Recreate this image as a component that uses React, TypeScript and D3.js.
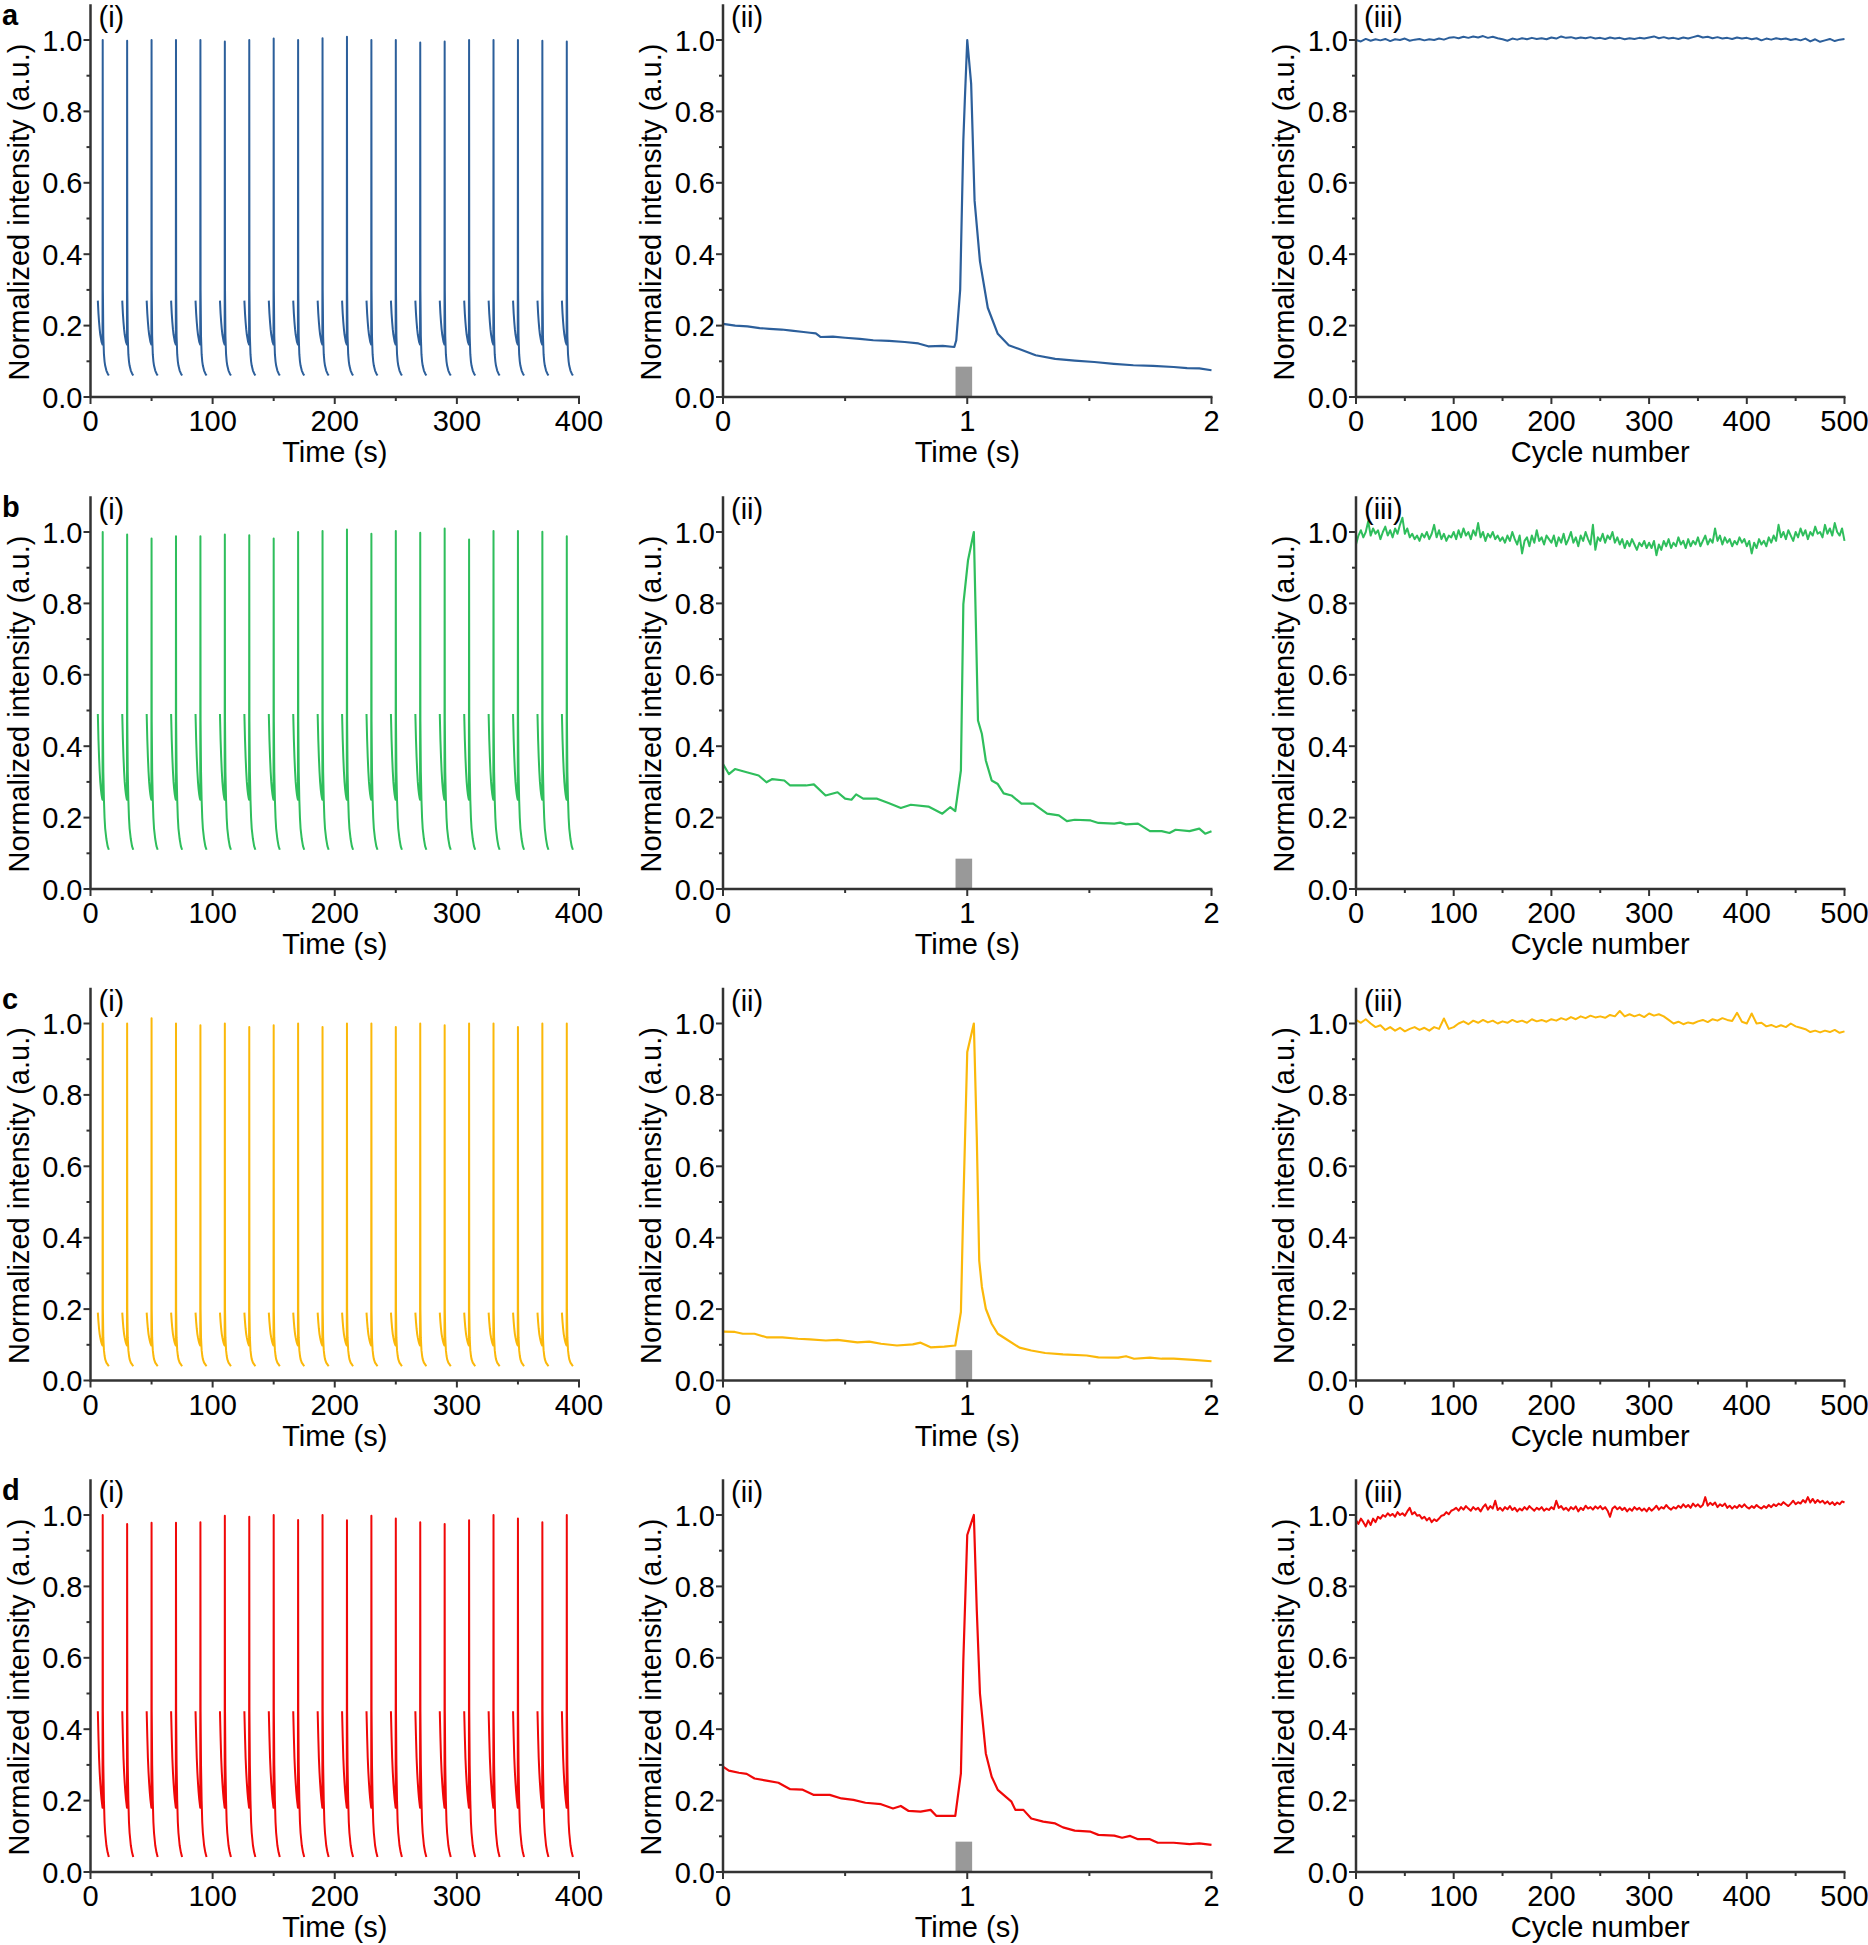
import React from "react";
import * as d3 from "d3";

// ---------- DATA ----------
const rowLetters = ["a", "b", "c", "d"];
const panelTags = ["(i)", "(ii)", "(iii)"];

// (i) : repeated excitation cycles, spike times (s)
const spikeTimes = [10, 30, 50, 70, 90, 110, 130, 150, 170, 190, 210, 230, 250, 270, 290, 310, 330, 350, 370, 390];
// offsets (s) relative to spike inside one cycle window
const cycleOffsets = [-4, -3.5, -3, -2.5, -2, -1.5, -1, -0.5, -0.15, 0, 0.15, 0.5, 1, 1.5, 2, 3, 4, 5];
// cycle shape per row (peak slot replaced by per-cycle peak)
const shapeA = [0.27, 0.235, 0.21, 0.19, 0.175, 0.165, 0.155, 0.15, 0.147, 1, 0.3, 0.17, 0.12, 0.1, 0.088, 0.074, 0.066, 0.06];
const shapeB = [0.49, 0.42, 0.37, 0.33, 0.3, 0.28, 0.265, 0.255, 0.25, 1, 0.47, 0.33, 0.25, 0.2, 0.17, 0.14, 0.12, 0.11];
const shapeC = [0.19, 0.165, 0.145, 0.13, 0.12, 0.112, 0.105, 0.1, 0.098, 1, 0.2, 0.12, 0.085, 0.07, 0.06, 0.05, 0.045, 0.04];
const shapeD = [0.45, 0.38, 0.32, 0.28, 0.25, 0.225, 0.205, 0.19, 0.18, 1, 0.45, 0.3, 0.2, 0.14, 0.11, 0.075, 0.055, 0.042];
const peaksA = [1.0, 0.998, 1.0, 1.0, 1.0, 0.996, 1.0, 1.004, 1.0, 1.005, 1.009, 1.0, 1.0, 0.993, 0.996, 1.0, 1.0, 1.0, 0.998, 0.996];
const peaksB = [1.0, 0.993, 0.982, 0.988, 0.988, 0.993, 0.991, 0.982, 1.0, 1.003, 1.007, 0.995, 1.003, 0.998, 1.01, 0.979, 1.003, 1.003, 1.001, 0.988];
const peaksC = [1.0, 1.0, 1.015, 1.0, 0.995, 1.0, 0.99, 0.995, 1.0, 0.99, 1.0, 1.0, 0.99, 1.0, 0.995, 1.0, 1.0, 0.99, 1.0, 1.0];
const peaksD = [1.0, 0.975, 0.978, 0.978, 0.98, 0.998, 0.995, 1.0, 0.986, 1.0, 0.985, 0.998, 0.99, 0.98, 0.975, 0.985, 1.0, 0.99, 0.98, 1.0];

// (ii) : single cycle [time (s), intensity]
const singleA = [[0, 0.205], [0.05, 0.2], [0.1, 0.198], [0.15, 0.193], [0.19, 0.191], [0.24, 0.189], [0.28, 0.186], [0.33, 0.182], [0.356, 0.18], [0.38, 0.178], [0.4, 0.168], [0.45, 0.169], [0.5, 0.166], [0.56, 0.163], [0.615, 0.159], [0.68, 0.157], [0.744, 0.154], [0.8, 0.15], [0.84, 0.142], [0.9, 0.143], [0.947, 0.14], [0.955, 0.159], [0.971, 0.3], [0.984, 0.72], [0.99, 0.83], [1.0, 1.0], [1.016, 0.877], [1.03, 0.55], [1.052, 0.38], [1.084, 0.25], [1.125, 0.177], [1.17, 0.145], [1.21, 0.135], [1.28, 0.117], [1.36, 0.107], [1.44, 0.102], [1.52, 0.098], [1.6, 0.093], [1.68, 0.089], [1.76, 0.087], [1.845, 0.084], [1.9, 0.081], [1.95, 0.08], [2.0, 0.075]];
const singleB = [[0, 0.35], [0.024, 0.322], [0.049, 0.336], [0.097, 0.327], [0.146, 0.318], [0.178, 0.299], [0.202, 0.308], [0.251, 0.304], [0.275, 0.29], [0.34, 0.29], [0.372, 0.293], [0.42, 0.262], [0.469, 0.271], [0.5, 0.253], [0.526, 0.25], [0.545, 0.265], [0.574, 0.253], [0.631, 0.253], [0.68, 0.24], [0.728, 0.227], [0.769, 0.236], [0.841, 0.231], [0.898, 0.211], [0.93, 0.229], [0.951, 0.218], [0.974, 0.332], [0.984, 0.798], [1.003, 0.92], [1.027, 1.0], [1.044, 0.472], [1.06, 0.434], [1.076, 0.36], [1.1, 0.304], [1.125, 0.294], [1.149, 0.268], [1.181, 0.262], [1.222, 0.239], [1.27, 0.239], [1.327, 0.211], [1.375, 0.206], [1.408, 0.19], [1.44, 0.194], [1.505, 0.192], [1.537, 0.185], [1.602, 0.183], [1.626, 0.186], [1.65, 0.181], [1.699, 0.183], [1.748, 0.162], [1.796, 0.162], [1.828, 0.157], [1.853, 0.166], [1.91, 0.162], [1.95, 0.169], [1.974, 0.155], [2.0, 0.162]];
const singleC = [[0, 0.137], [0.049, 0.136], [0.081, 0.131], [0.129, 0.131], [0.178, 0.121], [0.243, 0.121], [0.307, 0.117], [0.356, 0.115], [0.421, 0.112], [0.469, 0.114], [0.55, 0.107], [0.599, 0.109], [0.647, 0.103], [0.712, 0.098], [0.777, 0.101], [0.809, 0.106], [0.85, 0.093], [0.906, 0.095], [0.951, 0.098], [0.974, 0.192], [0.984, 0.495], [1.0, 0.92], [1.027, 1.0], [1.039, 0.682], [1.049, 0.336], [1.06, 0.262], [1.076, 0.201], [1.1, 0.159], [1.125, 0.131], [1.157, 0.117], [1.214, 0.092], [1.262, 0.084], [1.319, 0.077], [1.392, 0.073], [1.489, 0.07], [1.537, 0.065], [1.618, 0.064], [1.65, 0.068], [1.683, 0.061], [1.748, 0.064], [1.796, 0.061], [1.845, 0.061], [1.926, 0.058], [2.0, 0.054]];
const singleD = [[0, 0.295], [0.024, 0.284], [0.065, 0.278], [0.097, 0.275], [0.129, 0.262], [0.178, 0.256], [0.227, 0.25], [0.275, 0.232], [0.324, 0.231], [0.372, 0.216], [0.437, 0.216], [0.485, 0.206], [0.534, 0.202], [0.583, 0.194], [0.647, 0.19], [0.696, 0.178], [0.728, 0.185], [0.76, 0.171], [0.809, 0.169], [0.85, 0.174], [0.874, 0.157], [0.951, 0.157], [0.974, 0.276], [0.984, 0.594], [1.0, 0.944], [1.027, 1.0], [1.039, 0.734], [1.052, 0.5], [1.076, 0.332], [1.1, 0.267], [1.125, 0.23], [1.157, 0.211], [1.181, 0.197], [1.197, 0.174], [1.23, 0.174], [1.262, 0.15], [1.311, 0.141], [1.36, 0.136], [1.392, 0.125], [1.44, 0.116], [1.505, 0.113], [1.537, 0.104], [1.602, 0.102], [1.634, 0.096], [1.667, 0.101], [1.699, 0.092], [1.748, 0.092], [1.78, 0.082], [1.845, 0.082], [1.91, 0.078], [1.95, 0.08], [2.0, 0.076]];

// (iii) : stability over cycles (0..500), sampling interval per row
const stabSteps = [5, 2.5, 5, 2.5];
const stabA = [1.0, 0.996, 1.003, 0.998, 1.002, 0.999, 1.003, 0.997, 1.002, 1.0, 1.004, 0.998, 1.001, 1.003, 0.999, 1.002, 1.0, 1.004, 1.001, 1.006,
  1.008, 1.005, 1.009, 1.006, 1.01, 1.007, 1.011, 1.006, 1.009, 1.005, 1.002, 0.998, 1.004, 1.001, 1.005, 1.002, 1.006, 1.003, 1.005, 1.002,
  1.007, 1.004, 1.01, 1.006, 1.008, 1.004, 1.007, 1.005, 1.008, 1.004, 1.006, 1.003, 1.007, 1.004, 1.006, 1.002, 1.005, 1.003, 1.006, 1.004,
  1.007, 1.01, 1.005, 1.008, 1.004, 1.006, 1.003, 1.007, 1.004, 1.008, 1.012, 1.007, 1.009, 1.005, 1.008, 1.004, 1.006, 1.003, 1.007, 1.004,
  1.006, 1.002, 1.005, 0.999, 1.004, 1.001, 1.005, 1.002, 1.004, 1.0, 1.003, 0.999, 1.004, 0.996, 1.002, 0.995, 0.999, 1.003, 0.997, 1.001, 1.003];
const stabB = [0.965, 0.99, 1.005, 0.985, 1.0, 1.03, 0.99, 1.01, 0.995, 1.005, 0.98, 1.0, 1.015, 0.99, 1.005, 0.985, 1.01, 0.995, 1.02, 1.04,
  0.995, 1.01, 0.985, 0.995, 0.98, 0.99, 0.975, 0.995, 0.985, 1.0, 0.98, 0.995, 1.02, 0.985, 1.005, 0.98, 0.995, 0.975, 0.99, 0.985,
  1.0, 0.98, 1.005, 0.985, 1.01, 0.99, 1.0, 0.98, 1.005, 0.99, 1.025, 0.985, 1.0, 0.975, 0.995, 0.985, 1.0, 0.98, 0.99, 0.975,
  0.985, 0.97, 0.99, 0.975, 1.0, 0.98, 0.965, 0.99, 0.94, 0.975, 0.985, 0.96, 0.99, 0.97, 1.005, 0.975, 0.985, 0.965, 0.99, 0.98,
  0.97, 0.99, 0.96, 0.985, 0.97, 0.995, 0.965, 0.98, 1.0, 0.97, 0.985, 0.96, 0.99, 0.975, 1.0, 0.98, 0.965, 1.02, 0.95, 0.985,
  0.975, 0.995, 0.97, 0.99, 0.98, 1.0, 0.97, 0.985, 0.965, 0.98, 0.955, 0.975, 0.96, 0.98, 0.965, 0.95, 0.97, 0.96, 0.975, 0.955,
  0.97, 0.955, 0.975, 0.935, 0.965, 0.95, 0.975, 0.96, 0.98, 0.955, 0.97, 0.96, 0.985, 0.965, 0.975, 0.955, 0.98, 0.96, 0.975, 0.965,
  0.985, 0.96, 0.975, 0.99, 0.965, 0.98, 0.97, 1.01, 0.975, 0.99, 0.965, 0.985, 0.97, 0.98, 0.96, 0.975, 0.965, 0.985, 0.97, 0.98,
  0.96, 0.975, 0.94, 0.97, 0.955, 0.98, 0.965, 0.975, 0.96, 0.985, 0.97, 0.99, 0.975, 1.02, 0.985, 1.0, 0.98, 1.005, 0.99, 0.975,
  1.0, 0.985, 1.01, 0.99, 1.005, 0.98, 1.0, 0.99, 1.015, 0.995, 1.0, 0.985, 1.02, 0.995, 1.01, 0.99, 1.025, 1.0, 0.99, 1.01, 0.975];
const stabC = [1.01, 1.002, 1.012, 1.0, 0.99, 0.995, 0.982, 0.99, 0.98, 0.988, 0.978, 0.985, 0.99, 0.982, 0.988, 0.98, 0.99, 0.985, 1.014, 0.985,
  0.99, 1.0, 1.006, 0.998, 1.008, 1.002, 1.01, 1.003, 1.008, 1.0, 1.006, 1.002, 1.01, 1.004, 1.008, 1.002, 1.012, 1.006, 1.01, 1.005,
  1.012, 1.008, 1.015, 1.01, 1.018, 1.012, 1.02, 1.015, 1.022, 1.017, 1.02, 1.016, 1.024, 1.02, 1.035, 1.02, 1.026, 1.02, 1.025, 1.018,
  1.028, 1.022, 1.026, 1.02, 1.01, 1.0, 1.005, 0.998, 1.003, 1.0, 1.006, 1.01, 1.004, 1.012, 1.008, 1.015, 1.01, 1.007, 1.03, 1.005,
  1.0, 1.028, 1.0, 1.002, 0.992, 0.996, 0.99, 0.995, 0.99, 1.0, 0.992, 0.988, 0.984, 0.976, 0.98, 0.975, 0.98, 0.976, 0.982, 0.974, 0.978];
const stabD = [0.985, 0.975, 0.99, 0.98, 0.968, 0.985, 0.972, 0.99, 0.98, 0.995, 0.99, 1.0, 0.995, 1.005, 0.998, 1.003, 0.995, 1.008, 1.0, 1.005,
  0.998, 1.01, 1.02, 1.002, 1.008, 0.998, 1.0, 0.99, 0.995, 0.985, 0.992, 0.98, 0.988, 0.983, 0.99, 0.998, 1.0, 1.008, 1.002, 1.012,
  1.015, 1.02, 1.012, 1.022, 1.015, 1.025, 1.018, 1.012, 1.022, 1.015, 1.02, 1.01, 1.022, 1.03, 1.015, 1.025, 1.018, 1.04, 1.014, 1.02,
  1.012, 1.022, 1.016, 1.025, 1.014, 1.02, 1.01, 1.018, 1.013, 1.022, 1.015, 1.025, 1.018, 1.012, 1.02, 1.015, 1.022, 1.012, 1.018, 1.014,
  1.022, 1.016, 1.04, 1.02, 1.025, 1.015, 1.02, 1.012, 1.022, 1.016, 1.024, 1.01, 1.02, 1.014, 1.026, 1.018, 1.022, 1.015, 1.024, 1.018,
  1.025, 1.016, 1.022, 1.012, 0.995, 1.018, 1.024, 1.016, 1.022, 1.014, 1.02, 1.01, 1.018, 1.012, 1.022, 1.015, 1.02, 1.012, 1.018, 1.01,
  1.02, 1.012, 1.018, 1.026, 1.015, 1.022, 1.018, 1.028, 1.02, 1.015, 1.022, 1.018, 1.026, 1.02, 1.03, 1.022, 1.028, 1.02, 1.032, 1.024,
  1.03, 1.022, 1.028, 1.05, 1.026, 1.034, 1.028, 1.035, 1.022, 1.03, 1.025, 1.032, 1.02, 1.026, 1.018, 1.025, 1.02, 1.028, 1.022, 1.03,
  1.022, 1.018, 1.025, 1.02, 1.028, 1.022, 1.018, 1.025, 1.02, 1.028, 1.022, 1.03, 1.025, 1.032, 1.028, 1.036, 1.03, 1.025, 1.032, 1.04,
  1.03, 1.036, 1.032, 1.042, 1.035, 1.05, 1.035, 1.045, 1.034, 1.042, 1.035, 1.04, 1.032, 1.038, 1.03, 1.036, 1.028, 1.035, 1.03, 1.038, 1.035];

// Excitation pulse marker in (ii)
const pulseStart = [0.952];
const pulseEnd = [1.02];
const pulseHeight = [0.085];

// Axis ticks
const yTicks = [0, 0.2, 0.4, 0.6, 0.8, 1.0];
const yMinor = [0.1, 0.3, 0.5, 0.7, 0.9];
const xTicksI = [0, 100, 200, 300, 400];
const xMinorI = [50, 150, 250, 350];
const xTicksII = [0, 1, 2];
const xMinorII = [0.5, 1.5];
const xTicksIII = [0, 100, 200, 300, 400, 500];
const xMinorIII = [50, 150, 250, 350, 450];

const shapes = [shapeA, shapeB, shapeC, shapeD];
const peaks = [peaksA, peaksB, peaksC, peaksD];
const singles = [singleA, singleB, singleC, singleD];
const stabs = [stabA, stabB, stabC, stabD];

// ---------- STYLE / LAYOUT ----------
const COLORS = ["#2c5f9b", "#2fbe5c", "#fbb80a", "#f00808"];
const FONT = "'Liberation Sans', Arial, Helvetica, sans-serif";
const AXIS = "#333333";
const colX = [90.5, 723, 1356];
const plotW = 488.5;
const rowY0 = [397, 889, 1380.5, 1872];
const unitPx = 357;
const yMax = 1.1;

type Pt = [number, number];

function Panel(props: {
  x0: number; y0: number; xDomain: [number, number]; xTicks: number[]; xMinor: number[];
  xLabel: string; tag: string; color: string; paths: Pt[][]; pulse?: boolean; sw: number;
}) {
  const { x0, y0, xDomain, xTicks, xMinor, xLabel, tag, color, paths, pulse, sw } = props;
  const x = d3.scaleLinear().domain(xDomain).range([x0, x0 + plotW]);
  const y = d3.scaleLinear().domain([0, yMax]).range([y0, y0 - yMax * unitPx]);
  const line = d3.line<Pt>().x((d) => x(d[0])).y((d) => y(d[1]));
  const fs = 29;
  return (
    <g>
      {pulse && (
        <rect x={x(pulseStart[0])} y={y(pulseHeight[0])} width={x(pulseEnd[0]) - x(pulseStart[0])}
          height={y(0) - y(pulseHeight[0])} fill="#999999" />
      )}
      {paths.map((p, i) => (
        <path key={i} d={line(p) || ""} fill="none" stroke={color} strokeWidth={sw} strokeLinejoin="round" />
      ))}
      {/* axes */}
      <line x1={x0} x2={x0} y1={y0 + 1} y2={y(yMax)} stroke={AXIS} strokeWidth={2.5} />
      <line x1={x0 - 1} x2={x0 + plotW + 1} y1={y0} y2={y0} stroke={AXIS} strokeWidth={2.5} />
      {yTicks.map((t) => (
        <g key={"y" + t}>
          <line x1={x0 - 7} x2={x0} y1={y(t)} y2={y(t)} stroke={AXIS} strokeWidth={2} />
          <text x={x0 - 8} y={y(t) + 10.5} textAnchor="end" fontSize={fs} fontFamily={FONT} fill="#000">{t.toFixed(1)}</text>
        </g>
      ))}
      {yMinor.map((t) => (
        <line key={"ym" + t} x1={x0 - 4} x2={x0} y1={y(t)} y2={y(t)} stroke={AXIS} strokeWidth={2} />
      ))}
      {xTicks.map((t) => (
        <g key={"x" + t}>
          <line x1={x(t)} x2={x(t)} y1={y0} y2={y0 + 7} stroke={AXIS} strokeWidth={2} />
          <text x={x(t)} y={y0 + 34} textAnchor="middle" fontSize={fs} fontFamily={FONT} fill="#000">{t}</text>
        </g>
      ))}
      {xMinor.map((t) => (
        <line key={"xm" + t} x1={x(t)} x2={x(t)} y1={y0} y2={y0 + 4} stroke={AXIS} strokeWidth={2} />
      ))}
      <text x={x0 + plotW / 2} y={y0 + 65} textAnchor="middle" fontSize={fs} fontFamily={FONT} fill="#000">{xLabel}</text>
      <text transform={`translate(${x0 - 62},${y(0.518)}) rotate(-90)`} textAnchor="middle" fontSize={fs}
        fontFamily={FONT} fill="#000">Normalized intensity (a.u.)</text>
      <text x={x0 + 8} y={y(yMax) + 23} fontSize={fs} fontFamily={FONT} fill="#000">{tag}</text>
    </g>
  );
}

export default function App() {
  return (
    <svg width={1868} height={1945} viewBox="0 0 1868 1945"
      style={{ position: "absolute", left: 0, top: 0, background: "#fff" }}>
      <rect x={0} y={0} width={1868} height={1945} fill="#fff" />
      {rowLetters.map((letter, r) => {
        const y0 = rowY0[r];
        const cyclePaths: Pt[][] = spikeTimes.map((st, k) =>
          cycleOffsets.map((o, j) => [st + o, j === 9 ? peaks[r][k] : shapes[r][j]] as Pt)
        );
        const stabPath: Pt[] = stabs[r].map((v, i) => [i * stabSteps[r], v] as Pt);
        return (
          <g key={letter}>
            <text x={2} y={y0 - 372} fontSize={29} fontWeight="bold" fontFamily={FONT} fill="#000">{letter}</text>
            <Panel x0={colX[0]} y0={y0} xDomain={[0, 400]} xTicks={xTicksI} xMinor={xMinorI} xLabel="Time (s)"
              tag={panelTags[0]} color={COLORS[r]} paths={cyclePaths} sw={2} />
            <Panel x0={colX[1]} y0={y0} xDomain={[0, 2]} xTicks={xTicksII} xMinor={xMinorII} xLabel="Time (s)"
              tag={panelTags[1]} color={COLORS[r]} paths={[singles[r] as Pt[]]} pulse sw={2.2} />
            <Panel x0={colX[2]} y0={y0} xDomain={[0, 500]} xTicks={xTicksIII} xMinor={xMinorIII} xLabel="Cycle number"
              tag={panelTags[2]} color={COLORS[r]} paths={[stabPath]} sw={2} />
          </g>
        );
      })}
    </svg>
  );
}
